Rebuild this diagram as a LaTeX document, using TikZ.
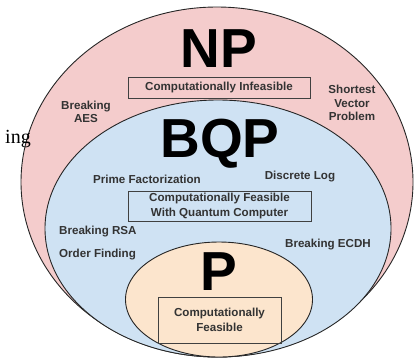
\documentclass[tikz,border=0pt]{standalone}
\usepackage{fontspec}
\setmainfont{Liberation Sans}
\newfontfamily\serifface{Liberation Serif}
\begin{document}
\begin{tikzpicture}[x=1pt,y=-1pt,
  region/.style={draw=black!85,line width=0.9pt},
  bigname/.style={anchor=base,text=black,font=\fontsize{55}{55}\selectfont\bfseries,inner sep=0pt},
  item/.style={text=black!80,font=\fontsize{11.6}{13.5}\selectfont\bfseries,align=center,inner sep=0pt},
  tagbox/.style={draw=black!75,line width=0.9pt,align=center,inner sep=0pt,
    text=black!80,font=\fontsize{11.6}{14.5}\selectfont\bfseries}]
\useasboundingbox (0,0) rectangle (414,357);

% nested complexity classes
\path[region,fill={rgb,255:red,244;green,204;blue,204}] (217,182) ellipse [x radius=196,y radius=175] coordinate (np);
\path[region,fill={rgb,255:red,207;green,226;blue,243}] (218,228.5) ellipse [x radius=173,y radius=128.5] coordinate (bqp);
\path[region,fill={rgb,255:red,252;green,229;blue,205}] (219,299.5) ellipse [x radius=93.5,y radius=57.5] coordinate (p);

% fragment of a neighbouring label on the left
\node[anchor=base east,inner sep=0pt,font=\serifface\fontsize{20}{20}\selectfont] (frag) at (31,143) {ing};

% NP
\node[bigname] (npname) at (219,67) {NP};
\node[tagbox,minimum width=182,minimum height=21] (npbox) at (219,87.5) {Computationally Infeasible};
\node[item] (aes) at (86,112) {Breaking\\AES};
\node[item] (svp) at (352,103) {Shortest\\Vector\\Problem};

% BQP
\node[bigname] (bqpname) at (220,157) {BQP};
\node[item] (pf) at (147,179) {Prime Factorization};
\node[item] (dl) at (300,177) {Discrete Log};
\node[tagbox,minimum width=183,minimum height=30] (bqpbox) at (219.5,206) {Computationally Feasible\\With Quantum Computer};
\node[item,anchor=west] (rsa) at (59,232) {Breaking RSA};
\node[item,anchor=west] (of) at (59,255) {Order Finding};
\node[item] (ecdh) at (328,245) {Breaking ECDH};

% P
\node[bigname] (pname) at (218.5,290) {P};
\node[tagbox,minimum width=123,minimum height=46] (pbox) at (219.5,320) {Computationally\\Feasible};
\end{tikzpicture}
\end{document}
